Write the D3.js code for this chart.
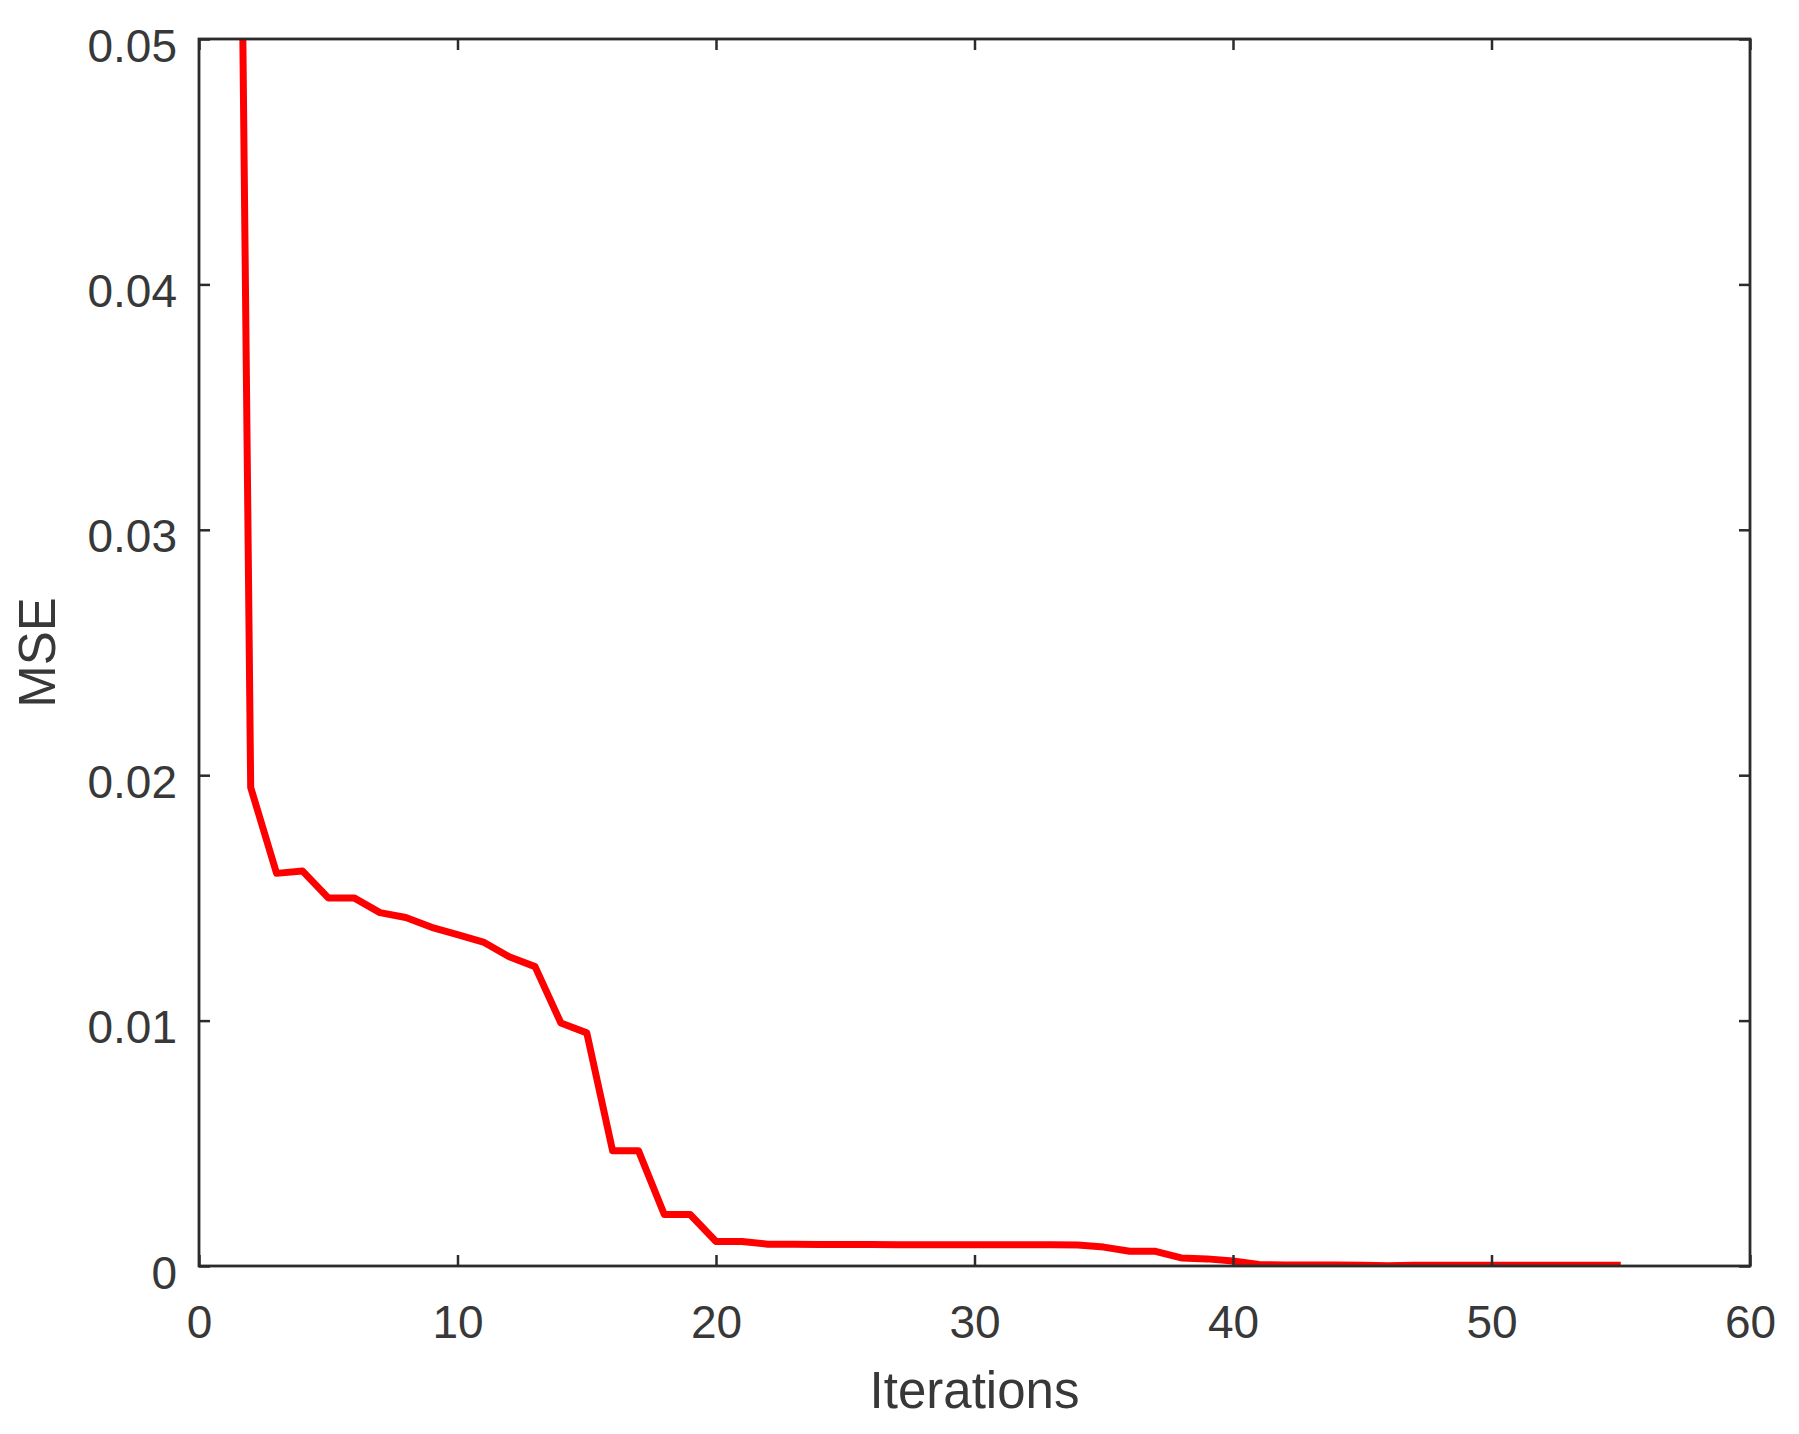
<!DOCTYPE html>
<html>
<head>
<meta charset="utf-8">
<script src="https://cdn.jsdelivr.net/npm/d3@7"></script>
<style>
  body { margin: 0; background: #fff; }
  text { font-family: "Liberation Sans", Arial, sans-serif; fill: #383838; }
</style>
</head>
<body>
<svg id="chart" width="1799" height="1434"></svg>
<script>
// data
var iterations = [1,2,3,4,5,6,7,8,9,10,11,12,13,14,15,16,17,18,19,20,
  21,22,23,24,25,26,27,28,29,30,31,32,33,34,35,36,37,38,39,40,
  41,42,43,44,45,46,47,48,49,50,51,52,53,54,55];
var mse = [0.12, 0.0195, 0.0160, 0.0161, 0.0150, 0.0150, 0.0144, 0.0142, 0.0138, 0.0135,
  0.0132, 0.0126, 0.0122, 0.0099, 0.0095, 0.0047, 0.0047, 0.0021, 0.0021, 0.0010,
  0.0010, 0.00089, 0.00089, 0.00088, 0.00088, 0.00088, 0.00087, 0.00087, 0.00087, 0.00087,
  0.00087, 0.00087, 0.00087, 0.00086, 0.00077, 0.00060, 0.00060, 0.00033, 0.00029, 0.00020,
  0.00006, 0.00004, 0.00004, 0.00004, 0.00003, 0.00001, 0.00003, 0.00003, 0.00003, 0.00003,
  0.00003, 0.00003, 0.00003, 0.00003, 0.00003];
var xTicks = [0, 10, 20, 30, 40, 50, 60];
var yTicks = [0, 0.01, 0.02, 0.03, 0.04, 0.05];
var yTickLabels = ['0', '0.01', '0.02', '0.03', '0.04', '0.05'];

var margin = {left: 199, right: 49, top: 39, bottom: 168};
var W = 1799, H = 1434;
var pw = W - margin.left - margin.right;
var ph = H - margin.top - margin.bottom;

var svg = d3.select('#chart');
var g = svg.append('g').attr('transform', 'translate(' + margin.left + ',' + margin.top + ')');

var x = d3.scaleLinear().domain([0, 60]).range([0, pw]);
var y = d3.scaleLinear().domain([0, 0.05]).range([ph, 0]);

g.append('clipPath').attr('id', 'plotclip')
  .append('rect').attr('width', pw).attr('height', ph);

var pts = iterations.map(function(it, i) { return [it, mse[i]]; });
var line = d3.line().x(function(d){ return x(d[0]); }).y(function(d){ return y(d[1]); });

g.append('path')
  .datum(pts)
  .attr('clip-path', 'url(#plotclip)')
  .attr('d', line)
  .attr('fill', 'none')
  .attr('stroke', '#ff0000')
  .attr('stroke-width', 7)
  .attr('stroke-linejoin', 'round');

// ticks, pointing inward on all four sides
function styleAxis(sel) {
  sel.select('.domain').remove();
  sel.selectAll('.tick line').attr('stroke', '#2b2b2b').attr('stroke-width', 2.5);
  sel.selectAll('text').style('font-size', '46px').attr('fill', '#383838');
}

var xb = g.append('g').attr('transform', 'translate(0,' + ph + ')')
  .call(d3.axisBottom(x).tickValues(xTicks).tickSize(-11).tickSizeOuter(0).tickFormat(d3.format('d')));
styleAxis(xb);
xb.selectAll('text').attr('y', 72).attr('dy', null);

var xt = g.append('g')
  .call(d3.axisTop(x).tickValues(xTicks).tickSize(-11).tickSizeOuter(0).tickFormat(''));
styleAxis(xt);

var yl = g.append('g')
  .call(d3.axisLeft(y).tickValues(yTicks).tickSize(-11).tickSizeOuter(0)
    .tickFormat(function(d, i){ return yTickLabels[i]; }));
styleAxis(yl);
yl.selectAll('text').attr('x', -22).attr('dy', 22);

var yr = g.append('g').attr('transform', 'translate(' + pw + ',0)')
  .call(d3.axisRight(y).tickValues(yTicks).tickSize(-11).tickSizeOuter(0).tickFormat(''));
styleAxis(yr);

// box
g.append('rect')
  .attr('width', pw).attr('height', ph)
  .attr('fill', 'none').attr('stroke', '#2b2b2b').attr('stroke-width', 2.8);

// axis labels
svg.append('text')
  .attr('x', margin.left + pw / 2).attr('y', 1408)
  .attr('text-anchor', 'middle')
  .style('font-size', '51px')
  .text('Iterations');

svg.append('text')
  .attr('transform', 'translate(55,' + (margin.top + ph / 2) + ') rotate(-90)')
  .attr('text-anchor', 'middle')
  .style('font-size', '51px')
  .text('MSE');
</script>
</body>
</html>
